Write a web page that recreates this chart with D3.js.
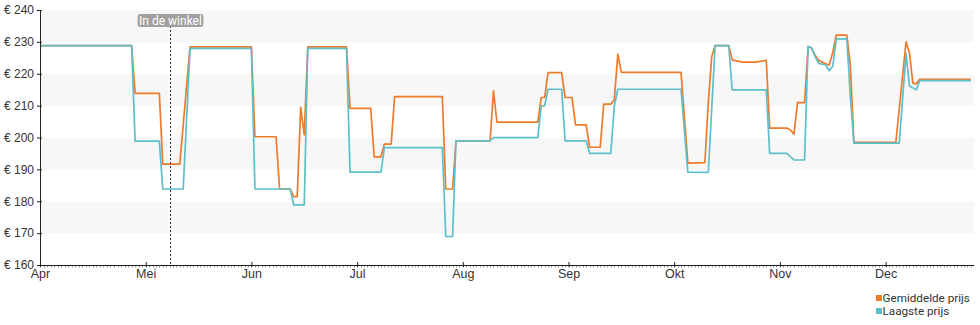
<!DOCTYPE html>
<html>
<head>
<meta charset="utf-8">
<script src="https://cdn.jsdelivr.net/npm/d3@7"></script>
<style>
  html, body { margin: 0; padding: 0; background: #fff; }
  svg { display: block; font-family: Roboto, "Noto Sans", sans-serif; }
</style>
</head>
<body>
<svg id="chart" width="980" height="325"></svg>
<script>
// ---------- data ----------
const monthLabels = ["Apr", "Mei", "Jun", "Jul", "Aug", "Sep", "Okt", "Nov", "Dec"];
const yTicks = [160, 170, 180, 190, 200, 210, 220, 230, 240];
const seriesNames = ["Gemiddelde prijs", "Laagste prijs"];
const seriesColors = ["#ee7a2a", "#5cbfc9"];
const markerDate = "2023-05-08";
const markerLabel = "In de winkel";

const avgPrice = [
  ["2023-04-01", 229], ["2023-04-27", 229], ["2023-04-28", 214], ["2023-05-05", 214],
  ["2023-05-06", 191.8], ["2023-05-11", 191.8], ["2023-05-14", 228.6], ["2023-06-01", 228.6],
  ["2023-06-02", 200.4], ["2023-06-08", 200.4], ["2023-06-09", 184], ["2023-06-12", 184],
  ["2023-06-13", 181.6], ["2023-06-14", 181.6], ["2023-06-15", 209.6], ["2023-06-16", 201],
  ["2023-06-17", 228.6], ["2023-06-28", 228.6], ["2023-06-29", 209.3], ["2023-07-05", 209.3],
  ["2023-07-06", 194.1], ["2023-07-08", 194.1], ["2023-07-09", 198.1], ["2023-07-11", 198.1],
  ["2023-07-12", 213], ["2023-07-26", 213], ["2023-07-27", 184], ["2023-07-29", 184],
  ["2023-07-30", 199.1], ["2023-08-09", 199.1], ["2023-08-10", 214.8], ["2023-08-11", 205],
  ["2023-08-23", 205], ["2023-08-24", 212.7], ["2023-08-25", 212.7], ["2023-08-26", 220.5],
  ["2023-08-30", 220.5], ["2023-08-31", 212.7], ["2023-09-02", 212.7], ["2023-09-03", 204.1],
  ["2023-09-06", 204.1], ["2023-09-07", 197.1], ["2023-09-10", 197.1], ["2023-09-11", 210.6],
  ["2023-09-13", 210.6], ["2023-09-14", 212], ["2023-09-15", 226.3], ["2023-09-16", 220.6],
  ["2023-10-03", 220.6], ["2023-10-05", 192.1], ["2023-10-10", 192.3], ["2023-10-11", 211],
  ["2023-10-12", 225.5], ["2023-10-13", 229], ["2023-10-17", 229], ["2023-10-18", 224.5],
  ["2023-10-21", 223.8], ["2023-10-25", 223.8], ["2023-10-28", 224.4], ["2023-10-29", 203.1],
  ["2023-11-03", 203.1], ["2023-11-04", 202.5], ["2023-11-05", 201.2], ["2023-11-06", 211.1],
  ["2023-11-08", 211.1], ["2023-11-09", 228.7], ["2023-11-10", 228.3], ["2023-11-11", 226],
  ["2023-11-12", 224.3], ["2023-11-13", 223.8], ["2023-11-14", 223.3], ["2023-11-15", 222.9],
  ["2023-11-16", 226.8], ["2023-11-17", 232.3], ["2023-11-20", 232.3], ["2023-11-21", 222.8],
  ["2023-11-22", 198.6], ["2023-12-04", 198.6], ["2023-12-07", 230.2], ["2023-12-08", 226.6],
  ["2023-12-09", 217.2], ["2023-12-10", 217], ["2023-12-11", 218.4], ["2023-12-26", 218.4]
];

const lowPrice = [
  ["2023-04-01", 229], ["2023-04-27", 229], ["2023-04-28", 199], ["2023-05-05", 199],
  ["2023-05-06", 184], ["2023-05-12", 184], ["2023-05-14", 228.1], ["2023-06-01", 228.1],
  ["2023-06-02", 184], ["2023-06-12", 184], ["2023-06-13", 179], ["2023-06-16", 179],
  ["2023-06-17", 228.1], ["2023-06-28", 228.1], ["2023-06-29", 189.3], ["2023-07-08", 189.3],
  ["2023-07-09", 197], ["2023-07-26", 197], ["2023-07-27", 169.1], ["2023-07-29", 169.1],
  ["2023-07-30", 199.1], ["2023-08-09", 199.1], ["2023-08-10", 200.1], ["2023-08-23", 200.1],
  ["2023-08-24", 210.1], ["2023-08-25", 210.1], ["2023-08-26", 215.3], ["2023-08-30", 215.3],
  ["2023-08-31", 199.1], ["2023-09-06", 199.1], ["2023-09-07", 195.2], ["2023-09-13", 195.2],
  ["2023-09-14", 210], ["2023-09-15", 215.3], ["2023-10-03", 215.3], ["2023-10-05", 189.3],
  ["2023-10-11", 189.2], ["2023-10-13", 229], ["2023-10-17", 229], ["2023-10-18", 215.1],
  ["2023-10-28", 215.1], ["2023-10-29", 195.2], ["2023-11-03", 195.2], ["2023-11-05", 193.1],
  ["2023-11-08", 193.1], ["2023-11-09", 228.7], ["2023-11-10", 228.2], ["2023-11-11", 225.5],
  ["2023-11-12", 223.4], ["2023-11-14", 222.9], ["2023-11-15", 221.1], ["2023-11-16", 222.5],
  ["2023-11-17", 231.1], ["2023-11-20", 231.1], ["2023-11-21", 213], ["2023-11-22", 198.4],
  ["2023-12-05", 198.4], ["2023-12-07", 226.6], ["2023-12-08", 216.3], ["2023-12-10", 215.1],
  ["2023-12-11", 218], ["2023-12-26", 218]
];

// ---------- layout ----------
const parse = d3.timeParse("%Y-%m-%d");
const svg = d3.select("#chart");
const marginLeft = 40, marginTop = 10, plotBottom = 265, monthWidth = 105.7;
const startDate = parse("2023-04-01");
const endDate = parse("2023-12-27");
const monthStarts = d3.timeMonth.range(startDate, parse("2024-01-02"));

// equal width per month (as in the reference)
const x = d3.scaleTime()
  .domain(monthStarts)
  .range(monthStarts.map((d, i) => i * monthWidth))
  .clamp(true);
const plotRight = x(endDate);

const y = d3.scaleLinear().domain([160, 240]).range([plotBottom - marginTop, 0]);

const g = svg.append("g").attr("transform", `translate(${marginLeft},${marginTop})`);

// background bands
const bands = d3.range(0, yTicks.length - 1).filter(i => i % 2 === 1);
g.append("g").selectAll("rect").data(bands).join("rect")
  .attr("x", 0)
  .attr("width", plotRight)
  .attr("y", i => y(yTicks[i + 1]) + 0.5)
  .attr("height", i => y(yTicks[i]) - y(yTicks[i + 1]))
  .attr("fill", "#f7f7f7");

// lines
const line = d3.line()
  .x(d => x(parse(d[0])))
  .y(d => y(d[1]) + 0.5);

[avgPrice, lowPrice].forEach((s, i) => {
  g.append("path")
    .datum(s)
    .attr("fill", "none")
    .attr("stroke", seriesColors[i])
    .attr("stroke-width", 1.7)
    .attr("stroke-linejoin", "round")
    .attr("d", line);
});

// y axis
const yAxis = g.append("g")
  .call(d3.axisLeft(y).tickValues(yTicks).tickFormat(d => "€ " + d).tickSize(3).tickPadding(3).tickSizeOuter(0));
yAxis.selectAll(".tick line").attr("x1", 2).attr("stroke", "#222");
yAxis.select(".domain").attr("stroke", "#222");
yAxis.selectAll("text").attr("font-size", 12).attr("fill", "#333");

// minor daily ticks
const days = d3.timeDay.range(startDate, endDate);
g.append("g").attr("transform", `translate(0,${y(160)})`)
  .selectAll("line").data(days).join("line")
  .attr("x1", d => Math.round(x(d)) + 0.5).attr("x2", d => Math.round(x(d)) + 0.5)
  .attr("y1", 1).attr("y2", 2.5)
  .attr("stroke", "#999").attr("stroke-width", 1);

// x axis
const xAxis = g.append("g").attr("transform", `translate(0,${y(160)})`)
  .call(d3.axisBottom(x).tickValues(monthStarts.slice(0, monthLabels.length))
    .tickFormat((d, i) => monthLabels[i]).tickSize(2).tickSizeOuter(0));
xAxis.select(".domain").attr("stroke", "#222").attr("d", `M0,0.5H${plotRight}`);
xAxis.selectAll(".tick line").attr("y1", -3).attr("stroke", "#222");
xAxis.selectAll("text").attr("font-size", 12.5).attr("fill", "#333").attr("y", 4).attr("dy", "0.71em");

// store marker
const mx = Math.round(x(parse(markerDate))) + 0.5;
g.append("line")
  .attr("x1", mx).attr("x2", mx)
  .attr("y1", 4).attr("y2", y(160))
  .attr("stroke", "#333").attr("stroke-width", 1).attr("stroke-dasharray", "2,2");
const lab = g.append("g").attr("transform", `translate(${mx},${10})`);
const labText = lab.append("text")
  .attr("text-anchor", "middle").attr("y", 4.5)
  .attr("font-size", 12).attr("fill", "#fff")
  .text(markerLabel);
const bb = labText.node().getBBox();
lab.insert("rect", "text")
  .attr("x", bb.x - 1.5).attr("y", bb.y + 0.5)
  .attr("width", bb.width + 3).attr("height", bb.height - 1)
  .attr("rx", 3).attr("fill", "#a0a0a0");

// legend
const legend = svg.append("g").attr("transform", "translate(876,0)");
seriesNames.forEach((name, i) => {
  const row = legend.append("g").attr("transform", `translate(0,${298 + i * 13})`);
  row.append("rect").attr("x", 0).attr("y", -3).attr("width", 6).attr("height", 6).attr("fill", seriesColors[i]);
  row.append("text").attr("x", 6.5).attr("y", 0).attr("dy", "0.35em")
    .attr("font-size", 11.7).attr("fill", "#333").text(name);
});
</script>
</body>
</html>
